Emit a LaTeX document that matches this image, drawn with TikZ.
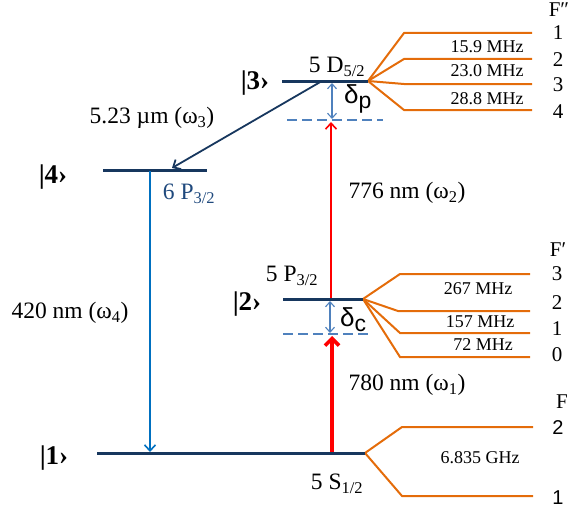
\documentclass[tikz,border=0pt]{standalone}
\usepackage{fontspec}
\setmainfont{Liberation Serif}
\setsansfont{Liberation Sans}
\usetikzlibrary{arrows.meta}
\definecolor{navy}{RGB}{23,55,94}
\definecolor{orng}{RGB}{228,108,10}
\definecolor{blu}{RGB}{0,112,192}
\definecolor{lblu}{RGB}{79,129,189}
\definecolor{navytxt}{RGB}{31,73,125}
\begin{document}
\begin{tikzpicture}[x=1pt,y=-1pt,
  level/.style={draw=navy,line width=3pt},
  hfs/.style={draw=orng,line width=2pt},
  dashlvl/.style={draw=lblu,line width=1.8pt,dash pattern=on 10pt off 5pt},
  lbl/.style={font=\fontsize{23.5}{23.5}\selectfont, inner sep=0pt},
  small/.style={font=\fontsize{18}{18}\selectfont, inner sep=0pt},
  fnum/.style={font=\fontsize{21}{21}\selectfont, inner sep=0pt},
  ket/.style={font=\fontsize{27}{27}\selectfont\bfseries, inner sep=0pt},
  dlt/.style={font=\sffamily\fontsize{26}{26}\selectfont, inner sep=0pt},
  barb/.style={-{Straight Barb[length=6pt,width=11pt]}},
  dbarb/.style={{Straight Barb[length=5pt,width=9pt]}-{Straight Barb[length=5pt,width=9pt]}},
]
\useasboundingbox (0,0) rectangle (570,511);

% level end points
\coordinate (L4a) at (103,170); \coordinate (L4b) at (207,170);
\coordinate (L3a) at (282,81);  \coordinate (L3b) at (368,81);
\coordinate (L2a) at (283,299); \coordinate (L2b) at (363,299);
\coordinate (L1a) at (97,453);  \coordinate (L1b) at (365,453);
\coordinate (Dpa) at (287,120); \coordinate (Dpb) at (383,120);
\coordinate (Dca) at (283,334); \coordinate (Dcb) at (372,334);

% arrow end points
\coordinate (w3s) at (322,81);  \coordinate (w3e) at (172,168);
\coordinate (w4s) at (150,171); \coordinate (w4e) at (150,452);
\coordinate (w1s) at (332,452); \coordinate (w1e) at (332,336);
\coordinate (w2s) at (331,298); \coordinate (w2e) at (331,122);
\coordinate (dps) at (332,83);  \coordinate (dpe) at (332,119);
\coordinate (dcs) at (330,301); \coordinate (dce) at (330,333);

% hyperfine ends
\coordinate (D1) at (532,33); \coordinate (D2) at (532,59);
\coordinate (D3) at (532,84); \coordinate (D4) at (532,110);
\coordinate (P3) at (530,274); \coordinate (P2) at (530,311);
\coordinate (P1) at (530,333); \coordinate (P0) at (530,357);
\coordinate (S2) at (533,427); \coordinate (S1) at (533,496);

% hyperfine fans
\draw[hfs] (L3b) -- (404,33) -- (D1);
\draw[hfs] (L3b) -- (404,59) -- (D2);
\draw[hfs] (L3b) -- (404,84) -- (D3);
\draw[hfs] (L3b) -- (404,110) -- (D4);
\draw[hfs] (L2b) -- (400,274) -- (P3);
\draw[hfs] (L2b) -- (398,311) -- (P2);
\draw[hfs] (L2b) -- (400,333) -- (P1);
\draw[hfs] (L2b) -- (400,357) -- (P0);
\draw[hfs] (L1b) -- (402,427) -- (S2);
\draw[hfs] (L1b) -- (402,496) -- (S1);

% levels
\draw[level] (L4a) -- (L4b);
\draw[level] (L3a) -- (L3b);
\draw[level] (L2a) -- (L2b);
\draw[level] (L1a) -- (L1b);
\draw[dashlvl] (Dpa) -- (Dpb);
\draw[dashlvl] (Dca) -- (Dcb);

% transitions
\draw[barb,draw=navy,line width=1.8pt] (w3s) -- (w3e);
\draw[barb,draw=blu,line width=1.6pt] (w4s) -- (w4e);
\draw[-{Straight Barb[length=7pt,width=14pt]},draw=red,line width=3.6pt] (w1s) -- (w1e);
\draw[barb,draw=red,line width=1.6pt] (w2s) -- (w2e);
\draw[dbarb,draw=lblu,line width=1.1pt] (dps) -- (dpe);
\draw[dbarb,draw=lblu,line width=1.1pt] (dcs) -- (dce);

% kets
\node[ket] (k3) at (255,83) {|3›};
\node[ket] (k4) at (53,177) {|4›};
\node[ket] (k2) at (247,304) {|2›};
\node[ket] (k1) at (54,458) {|1›};

% transition labels
\node[lbl] (t3) at (152,118) {5.23 µm (ω\textsubscript{3})};
\node[lbl] (t2) at (407,193) {776 nm (ω\textsubscript{2})};
\node[lbl] (t4) at (70,313) {420 nm (ω\textsubscript{4})};
\node[lbl] (t1) at (407,385) {780 nm (ω\textsubscript{1})};

% level names
\node[lbl] (n3) at (337,67) {5 D\textsubscript{5/2}};
\node[lbl] (n2) at (292,276) {5 P\textsubscript{3/2}};
\node[lbl] (n1) at (337,484) {5 S\textsubscript{1/2}};
\node[lbl,text=navytxt] (n4) at (189,194) {6 P\textsubscript{3/2}};

% detunings
\node[dlt,anchor=west] (dp) at (344,99) {δ\raisebox{-0.35ex}{\fontsize{23}{23}\selectfont p}};
\node[dlt,anchor=west] (dc) at (340,320) {δ\raisebox{-0.35ex}{\fontsize{23}{23}\selectfont c}};

% splittings
\node[small] (f159) at (487,47) {15.9 MHz};
\node[small] (f230) at (487,71) {23.0 MHz};
\node[small] (f288) at (487,99) {28.8 MHz};
\node[small] (f267) at (478,289) {267 MHz};
\node[small] (f157) at (480,322) {157 MHz};
\node[small] (f72)  at (483,345) {72 MHz};
\node[small] (f6835) at (480,458) {6.835 GHz};

% F labels
\node[fnum] (Fdd) at (559,10) {F″};
\node[fnum] (fd1) at (558,33) {1};
\node[fnum] (fd2) at (558,60) {2};
\node[fnum] (fd3) at (558,85) {3};
\node[fnum] (fd4) at (558,112) {4};
\node[fnum] (Fd) at (558,250) {F′};
\node[fnum] (fp3) at (557,274) {3};
\node[fnum] (fp2) at (557,303) {2};
\node[fnum] (fp1) at (557,329) {1};
\node[fnum] (fp0) at (557,355) {0};
\node[fnum] (F0) at (562,402) {F};
\node[fnum,font=\sffamily\fontsize{20}{20}\selectfont] (fs2) at (558,428) {2};
\node[fnum,font=\sffamily\fontsize{20}{20}\selectfont] (fs1) at (558,498) {1};
\end{tikzpicture}
\end{document}
